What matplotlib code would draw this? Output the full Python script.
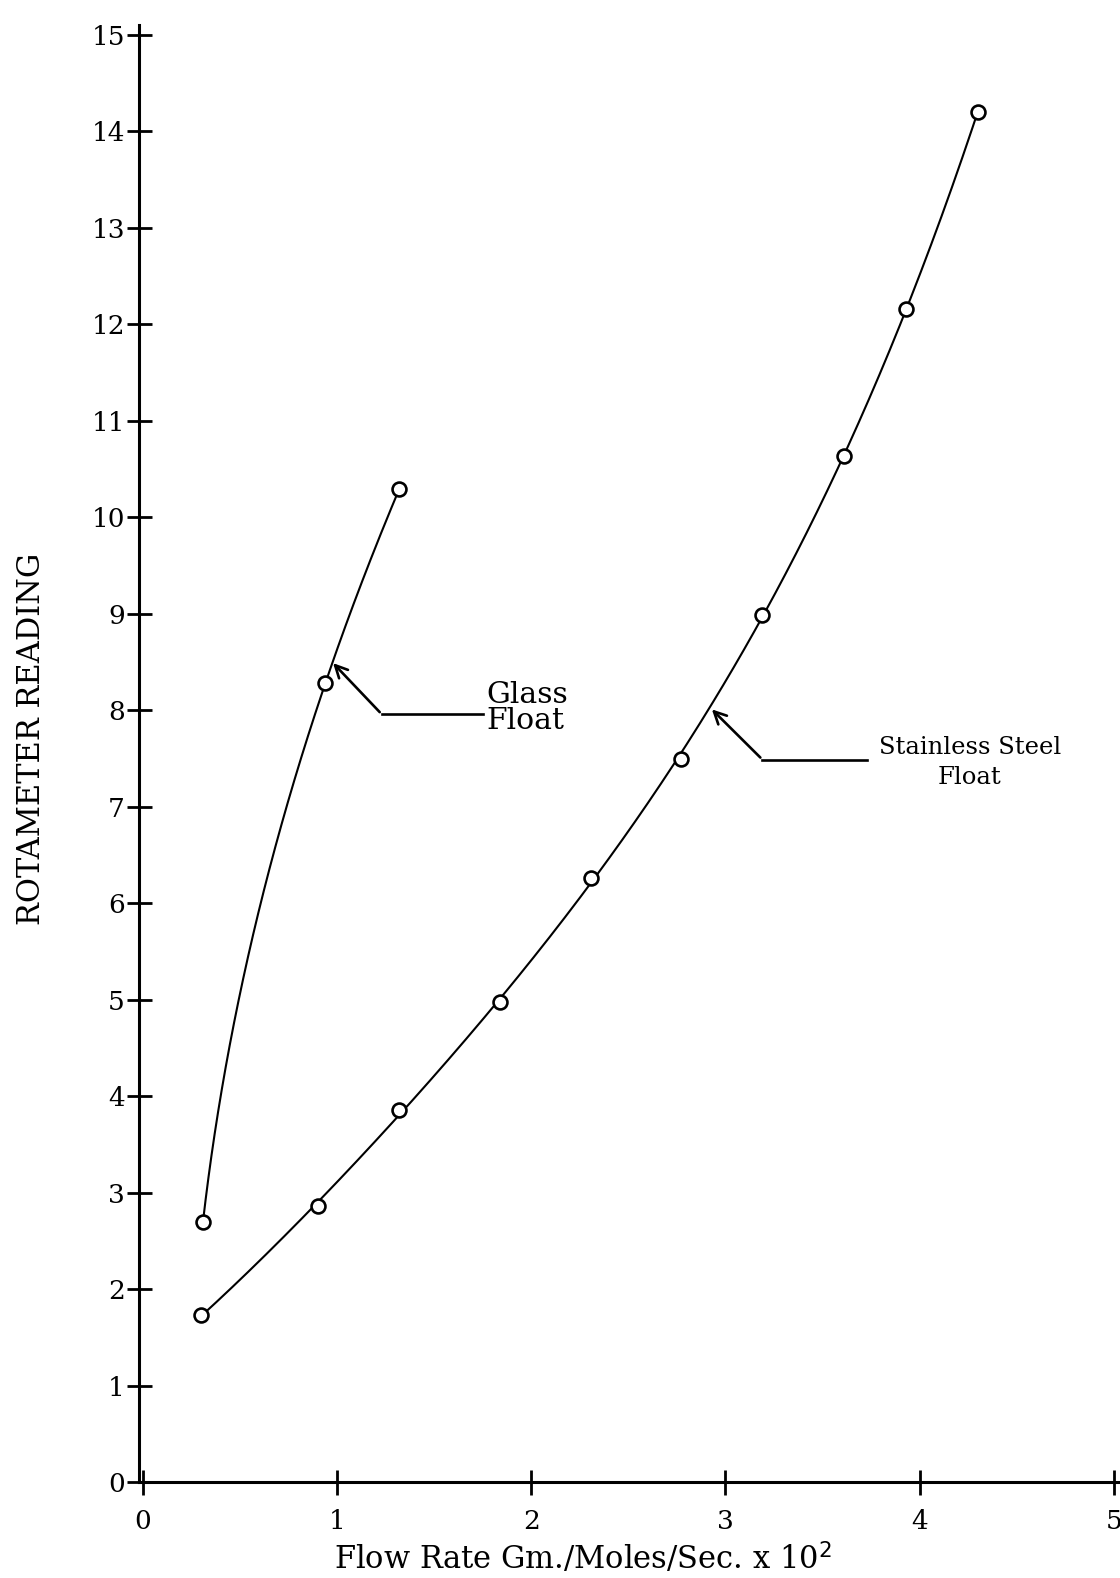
import numpy as np
import matplotlib
matplotlib.use('Agg')
import matplotlib.pyplot as plt

# glass float readings
glass_x = [0.31, 0.94, 1.32]
glass_y = [2.70, 8.28, 10.29]

# stainless steel float readings
steel_x = [0.30, 0.90, 1.32, 1.84, 2.31, 2.77, 3.19, 3.61, 3.93, 4.30]
steel_y = [1.73, 2.86, 3.86, 4.98, 6.26, 7.50, 8.99, 10.64, 12.16, 14.20]

x_ticks = [0, 1, 2, 3, 4, 5]
y_ticks = list(range(0, 16))

plt.rcParams['font.family'] = ['DejaVu Serif']

fig = plt.figure(figsize=(11.2, 15.78), dpi=100)
ax = fig.add_axes([0.124, 0.0606, 0.874, 0.9235])

# smooth curves through the points
gy = np.linspace(glass_y[0], glass_y[-1], 200)
gc = np.polyfit(glass_y, glass_x, 2)
ax.plot(np.polyval(gc, gy), gy, color='black', lw=1.5)

sx = np.linspace(steel_x[0], steel_x[-1], 300)
sc = np.polyfit(steel_x, steel_y, 4)
ax.plot(sx, np.polyval(sc, sx), color='black', lw=1.5)

ax.plot(glass_x, glass_y, 'o', mfc='white', mec='black', mew=1.9, ms=10)
ax.plot(steel_x, steel_y, 'o', mfc='white', mec='black', mew=1.9, ms=10)

# annotations
ax.annotate('', xy=(0.97, 8.51), xytext=(1.23, 7.96),
            arrowprops=dict(arrowstyle='->', color='black', lw=1.9, mutation_scale=22))
ax.plot([1.23, 1.75], [7.96, 7.96], color='black', lw=1.9)
ax.text(1.77, 8.02, 'Glass\nFloat', fontsize=21.5, ha='left', va='center', linespacing=0.9)

ax.annotate('', xy=(2.92, 8.03), xytext=(3.19, 7.49),
            arrowprops=dict(arrowstyle='->', color='black', lw=1.9, mutation_scale=22))
ax.plot([3.19, 3.73], [7.49, 7.49], color='black', lw=1.9)
ax.text(3.79, 7.46, 'Stainless Steel\nFloat', fontsize=17.5, ha='left', va='center',
        multialignment='center', linespacing=1.35)

ax.set_xlim(-0.02, 5.02)
ax.set_ylim(0, 15.1)
ax.set_xticks(x_ticks)
ax.set_yticks(y_ticks)
ax.set_xticklabels([str(v) for v in x_ticks], fontsize=19)
ax.set_yticklabels([str(v) for v in y_ticks], fontsize=19)
ax.tick_params(axis='both', direction='inout', length=18, width=2)
ax.tick_params(axis='x', pad=10)
ax.tick_params(axis='y', pad=1)

for s in ['top', 'right']:
    ax.spines[s].set_visible(False)
for s in ['left', 'bottom']:
    ax.spines[s].set_linewidth(2.2)

ax.set_xlabel('Flow Rate Gm./Moles/Sec. x 10$^2$', fontsize=22)
ax.xaxis.set_label_coords(0.454, -0.040)
ax.set_ylabel('ROTAMETER READING', fontsize=22)
ax.yaxis.set_label_coords(-0.094, 0.51)

plt.savefig('out.png')
